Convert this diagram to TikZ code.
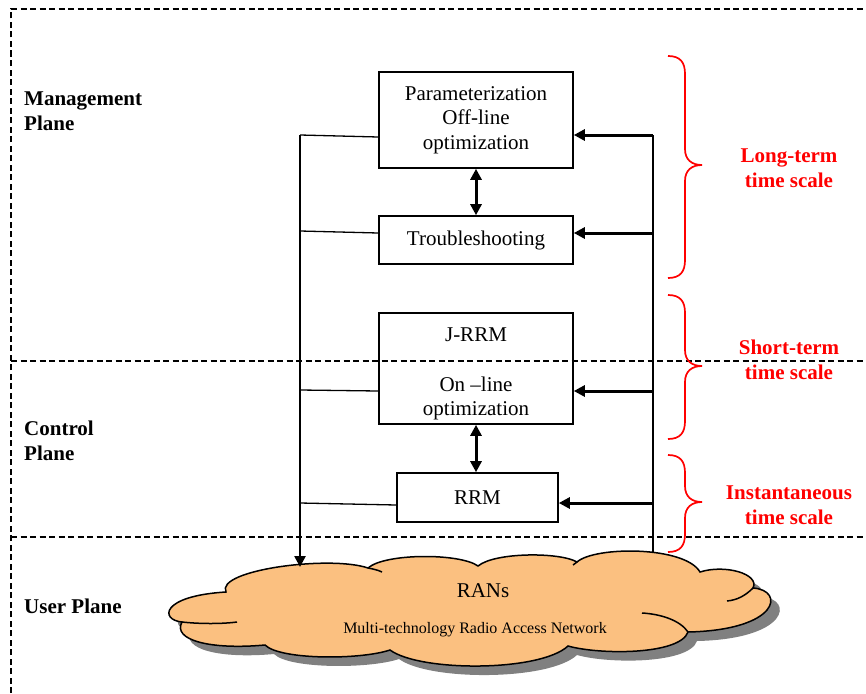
\documentclass[tikz,border=0pt]{standalone}
\usepackage{fontspec}
\setmainfont{Liberation Serif}
\usetikzlibrary{arrows.meta}
\definecolor{cloudfill}{RGB}{251,192,128}
\definecolor{shadowgray}{RGB}{128,128,128}
\newcommand\bxfont{\fontsize{21}{24.5}\selectfont}
\newcommand\lblfont{\fontsize{21}{25}\selectfont\bfseries}
\newcommand\cloudpath{(182,622) .. controls (160,620) and (160,596) .. (226,592)
 .. controls (215,570) and (330,555) .. (368,568)
 .. controls (385,553) and (460,553) .. (478,566)
 .. controls (495,552) and (560,552) .. (577,562)
 .. controls (595,546) and (685,546) .. (700,572)
 .. controls (725,564) and (760,574) .. (753,588)
 .. controls (785,590) and (780,630) .. (688,632)
 .. controls (680,655) and (600,655) .. (568,646)
 .. controls (540,672) and (420,672) .. (390,650)
 .. controls (360,660) and (280,660) .. (265,645)
 .. controls (210,650) and (172,640) .. (182,622) -- cycle}
\newcommand\timebrace[3]{%
 \draw[timebr] (668,#1) .. controls (680,#1) and (685,#1+6) .. (685,#1+18)
   -- (685,#2-16) .. controls (685,#2-5) and (692,#2) .. (702,#2)
   .. controls (692,#2) and (685,#2+5) .. (685,#2+16)
   -- (685,#3-18) .. controls (685,#3-6) and (680,#3) .. (668,#3);}
\begin{document}
\begin{tikzpicture}[x=1pt,y=-1pt,
  box/.style={draw, line width=1.6pt, align=center, font=\bxfont, inner sep=0pt, minimum width=194pt},
  planelabel/.style={font=\lblfont, align=left, anchor=west, inner sep=0pt},
  scalelabel/.style={font=\lblfont, text=red, align=center, inner sep=0pt},
  planesep/.style={dash pattern=on 6pt off 3.5pt, line width=1.8pt},
  feed/.style={line width=3pt, -{Triangle[length=11pt,width=11pt]}},
  dbl/.style={line width=3pt, {Triangle[length=11pt,width=11pt]}-{Triangle[length=11pt,width=11pt]}},
  tap/.style={line width=1.3pt},
  timebr/.style={red, line width=1.7pt},
  stub/.style={line width=1.5pt},
]
\useasboundingbox (0,0) rectangle (866,693);

% cloud
\fill[shadowgray, shift={(9,9)}] \cloudpath;
\filldraw[fill=cloudfill, draw=black, line width=1.5pt] \cloudpath;
\draw[stub] (182,622) .. controls (200,624) and (222,624) .. (237,622);
\draw[stub] (368,568) .. controls (373,569) and (378,570) .. (382,572);
\draw[stub] (753,588) .. controls (745,596) and (737,600) .. (727,601);
\draw[stub] (688,632) .. controls (680,620) and (660,614) .. (642,613);
\draw[stub] (577,562) -- (573,565);
\node[font=\fontsize{21}{24}\selectfont, inner sep=0pt] (rans) at (483,591) {RANs};
\node[font=\fontsize{16}{19}\selectfont, inner sep=0pt] (mrat) at (475,630) {Multi-technology Radio Access Network};

% plane separators
\draw[planesep] (11,693) -- (11,9) -- (866,9);
\draw[planesep] (11,361) -- (866,361);
\draw[planesep, line width=2.5pt] (11,537) -- (866,537);

% plane labels
\node[planelabel] (mgmt) at (24,111) {Management\\Plane};
\node[planelabel] (ctrl) at (24,441) {Control\\Plane};
\node[planelabel] (user) at (24,606) {User Plane};

% boxes
\node[box, minimum height=96pt] (b1) at (476,120) {Parameterization\\Off-line\\optimization};
\node[box, minimum height=48pt] (b2) at (476,240) {Troubleshooting};
\node[box, minimum height=111pt] (b3) at (476,368.5) {\rule{0pt}{25pt}J-RRM\\[25pt]On --line\\optimization};
\node[box, minimum height=49pt, minimum width=161pt] (b4) at (477.5,497.5) {RRM};

% vertical buses
\coordinate (ltop) at (300,135);
\coordinate (lbot) at (300,567);
\coordinate (rtop) at (653,135);
\coordinate (rbot) at (653,553);
\draw[feed, line width=2.5pt] (ltop) -- (lbot);
\draw[line width=1.8pt] (rtop) -- (rbot);

% taps from boxes to the left bus
\coordinate (l2) at (300,231);
\coordinate (l3) at (300,390);
\coordinate (l4) at (300,503);
\draw[tap] (ltop) -- (b1.west |- 0,137);
\draw[tap] (l2) -- (b2.west |- 0,233);
\draw[tap] (l3) -- (b3.west |- 0,391);
\draw[tap] (l4) -- (b4.west |- 0,505);

% feedback arrows from the right bus
\coordinate (r2) at (653,233);
\coordinate (r3) at (653,391);
\coordinate (r4) at (653,503);
\draw[feed] (rtop) -- (b1.east |- rtop);
\draw[feed] (r2) -- (b2.east |- r2);
\draw[feed] (r3) -- (b3.east |- r3);
\draw[feed] (r4) -- (b4.east |- r4);

% double arrows
\draw[dbl] (b1.south) -- (b2.north);
\draw[dbl] (b3.south) -- (b3.south |- b4.north);

% time-scale braces
\timebrace{56}{165}{278}
\timebrace{295}{366}{439}
\timebrace{455}{502}{552}
\node[scalelabel] (lt) at (789,168) {Long-term\\time scale};
\node[scalelabel] (st) at (789,360) {Short-term\\time scale};
\node[scalelabel] (it) at (789,505) {Instantaneous\\time scale};
\end{tikzpicture}
\end{document}
